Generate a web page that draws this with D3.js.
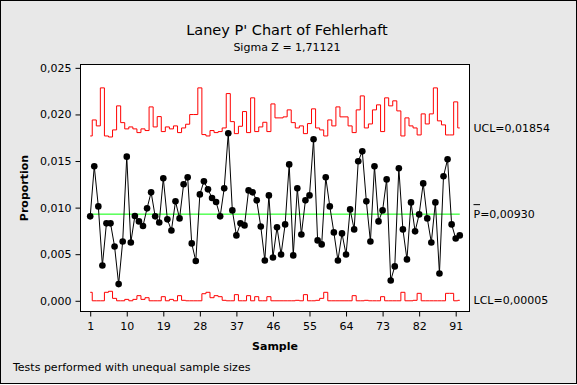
<!DOCTYPE html>
<html lang="en">
<head>
	<meta charset="UTF-8">
	<script type="text/javascript" src="https://d3js.org/d3.v7.min.js"></script>
	<title>Laney P' Chart of Fehlerhaft</title>
	<style>
		body{ margin: 0; }
		text{
			font-family: "DejaVu Sans", Verdana, sans-serif;
			fill: #000;
		}
		.tick text{ font-size: 11px; }
		.title{ font-size: 14.5px; }
		.sub{ font-size: 11px; }
		.lab{ font-size: 11px; font-weight: bold; }
		.limit{ font-size: 11px; }
	</style>
</head>
<body>
<script type="text/javascript">
	// proportion per sample (1..92)
	const proportion = [
		0.00906, 0.01443, 0.01013, 0.00379, 0.00831, 0.00831, 0.00583, 0.00179, 0.00637, 0.01547,
		0.00626, 0.00910, 0.00852, 0.00803, 0.00992, 0.01164, 0.00906, 0.00841, 0.01314, 0.00874,
		0.00755, 0.01067, 0.00884, 0.01250, 0.01325, 0.00616, 0.00427, 0.01142, 0.01282, 0.01196,
		0.01103, 0.01060, 0.00906, 0.01207, 0.01798, 0.00970, 0.00702, 0.00831, 0.00809, 0.01185,
		0.01164, 0.01078, 0.00798, 0.00433, 0.01131, 0.00465, 0.00788, 0.00497, 0.00820, 0.01464,
		0.00487, 0.01207, 0.00712, 0.01078, 0.01131, 0.01733, 0.00648, 0.00605, 0.01325, 0.01013,
		0.00734, 0.00433, 0.00723, 0.00497, 0.00981, 0.00766, 0.01497, 0.01604, 0.01067, 0.00637,
		0.01443, 0.00852, 0.00970, 0.01303, 0.00218, 0.00369, 0.01422, 0.00766, 0.00444, 0.01056,
		0.00745, 0.00927, 0.01260, 0.00884, 0.00626, 0.01056, 0.00293, 0.01336, 0.01518, 0.00820,
		0.00669, 0.00702
	];
	// upper control limit per sample (unequal sample sizes)
	const ucl = [
		0.01769, 0.01941, 0.01877, 0.02285, 0.01769, 0.01758, 0.01834, 0.02092, 0.01912, 0.01845,
		0.01866, 0.01845, 0.01805, 0.01845, 0.01827, 0.02081, 0.01866, 0.01977, 0.01816, 0.01866,
		0.01845, 0.01877, 0.01805, 0.01855, 0.01895, 0.01999, 0.01999, 0.02285, 0.01784, 0.01769,
		0.01827, 0.01805, 0.01816, 0.01855, 0.02224, 0.01923, 0.01794, 0.01873, 0.02031, 0.01805,
		0.02178, 0.01816, 0.01866, 0.01916, 0.01816, 0.02113, 0.01963, 0.01963, 0.01974, 0.02049,
		0.01912, 0.01855, 0.01877, 0.01794, 0.01902, 0.02060, 0.01855, 0.01834, 0.01769, 0.01941,
		0.01877, 0.02081, 0.01974, 0.01974, 0.01877, 0.01805, 0.02049, 0.02199, 0.01855, 0.01898,
		0.02049, 0.02103, 0.01816, 0.02178, 0.02092, 0.02146, 0.02038, 0.01769, 0.01963, 0.01877,
		0.01855, 0.01780, 0.02006, 0.01898, 0.02006, 0.02285, 0.01931, 0.01888, 0.01780, 0.01780,
		0.02135, 0.01855
	];
	// lower control limit per sample
	const lcl = [
		0.00091, 0, 0, 0, 0.00091, 0.00102, 0.00026, 0, 0, 0.00015,
		0, 0.00015, 0.00055, 0.00015, 0.00033, 0, 0, 0, 0.00044, 0,
		0.00015, 0, 0.00055, 0.00005, 0, 0, 0, 0, 0.00076, 0.00091,
		0.00033, 0.00055, 0.00044, 0.00005, 0, 0, 0.00066, 0, 0, 0.00055,
		0, 0.00044, 0, 0, 0.00044, 0, 0, 0, 0, 0,
		0, 0.00005, 0, 0.00066, 0, 0, 0.00005, 0.00026, 0.00091, 0,
		0, 0, 0, 0, 0, 0.00055, 0, 0, 0.00005, 0,
		0, 0, 0.00044, 0, 0, 0, 0, 0.00091, 0, 0,
		0.00005, 0.00080, 0, 0, 0, 0, 0, 0, 0.00080, 0.00080,
		0, 0.00005
	];
	const pBar = 0.00930, uclText = 0.01854, lclText = 0.00005;
	const xTicks = [1, 10, 19, 28, 37, 46, 55, 64, 73, 82, 91];
	const yTicks = [0, 0.005, 0.010, 0.015, 0.020, 0.025];

	const W = 577, H = 385;
	const box = {left: 80.5, top: 64.5, right: 469.5, bottom: 311.5};

	const svg = d3.select("body")
		.append("svg")
		.attr("width", W)
		.attr("height", H);

	// grey frame
	svg.append("rect")
		.attr("x", 0.5).attr("y", 0.5)
		.attr("width", W - 1).attr("height", H - 2)
		.attr("fill", "#e8e8e8")
		.attr("stroke", "#000");

	// titles
	svg.append("text")
		.attr("class", "title")
		.attr("x", 287).attr("y", 35)
		.attr("text-anchor", "middle")
		.text("Laney P' Chart of Fehlerhaft");
	svg.append("text")
		.attr("class", "sub")
		.attr("x", 287).attr("y", 51)
		.attr("text-anchor", "middle")
		.text("Sigma Z = 1,71121");

	let x = d3.scaleLinear().domain([-1.39, 94.4]).range([box.left, box.right]),
		y = d3.scaleLinear().domain([-0.00115, 0.02536]).range([box.bottom, box.top]);

	// plot area
	svg.append("rect")
		.attr("x", box.left).attr("y", box.top)
		.attr("width", box.right - box.left)
		.attr("height", box.bottom - box.top)
		.attr("fill", "#fff")
		.attr("stroke", "#000");

	const fmt = d3.formatLocale({decimal: ",", thousands: ".", grouping: [3], currency: ["", "€"]}).format(".3f");

	// axes
	svg.append("g")
		.attr("transform", "translate(" + box.left + ",0)")
		.call(d3.axisLeft(y).tickValues(yTicks).tickFormat(fmt).tickSize(5).tickPadding(4))
		.call(g => g.select(".domain").remove());
	svg.append("g")
		.attr("transform", "translate(0," + box.bottom + ")")
		.call(d3.axisBottom(x).tickValues(xTicks).tickSize(5).tickPadding(6))
		.call(g => g.select(".domain").remove());

	svg.append("text")
		.attr("class", "lab")
		.attr("x", (box.left + box.right) / 2).attr("y", 350)
		.attr("text-anchor", "middle")
		.text("Sample");
	svg.append("text")
		.attr("class", "lab")
		.attr("transform", "translate(28," + ((box.top + box.bottom) / 2) + ") rotate(-90)")
		.attr("text-anchor", "middle")
		.text("Proportion");
	svg.append("text")
		.attr("class", "sub")
		.attr("x", 13).attr("y", 371)
		.text("Tests performed with unequal sample sizes");

	// limits: step lines through the sample positions
	const step = d3.line()
		.x((d, i) => x(i + 1))
		.y(d => y(d))
		.curve(d3.curveStep);

	svg.append("path")
		.datum(ucl)
		.attr("d", step)
		.attr("fill", "none")
		.attr("stroke", "#ff0000");
	svg.append("path")
		.datum(lcl)
		.attr("d", step)
		.attr("fill", "none")
		.attr("stroke", "#ff0000");

	// center line
	svg.append("line")
		.attr("x1", x(1)).attr("x2", x(proportion.length))
		.attr("y1", y(pBar)).attr("y2", y(pBar))
		.attr("stroke", "#00ff00");

	// data
	svg.append("path")
		.datum(proportion)
		.attr("d", d3.line().x((d, i) => x(i + 1)).y(d => y(d)))
		.attr("fill", "none")
		.attr("stroke", "#000");
	svg.selectAll(".dot")
		.data(proportion)
		.enter()
		.append("circle")
		.attr("class", "dot")
		.attr("cx", (d, i) => x(i + 1))
		.attr("cy", d => y(d))
		.attr("r", 3.3)
		.attr("fill", "#000");

	// limit labels on the right
	const lx = box.right + 4;
	svg.append("text").attr("class", "limit")
		.attr("x", lx).attr("y", y(uclText)).attr("dy", "0.36em")
		.text("UCL=" + d3.format(".5f")(uclText).replace(".", ","));
	svg.append("text").attr("class", "limit")
		.attr("x", lx).attr("y", y(pBar)).attr("dy", "0.36em")
		.text("P=" + d3.format(".5f")(pBar).replace(".", ","));
	svg.append("line")
		.attr("x1", lx).attr("x2", lx + 6.5)
		.attr("y1", y(pBar) - 9.5).attr("y2", y(pBar) - 9.5)
		.attr("stroke", "#000");
	svg.append("text").attr("class", "limit")
		.attr("x", lx).attr("y", y(lclText)).attr("dy", "0.36em")
		.text("LCL=" + d3.format(".5f")(lclText).replace(".", ","));
</script>

</body>
</html>
